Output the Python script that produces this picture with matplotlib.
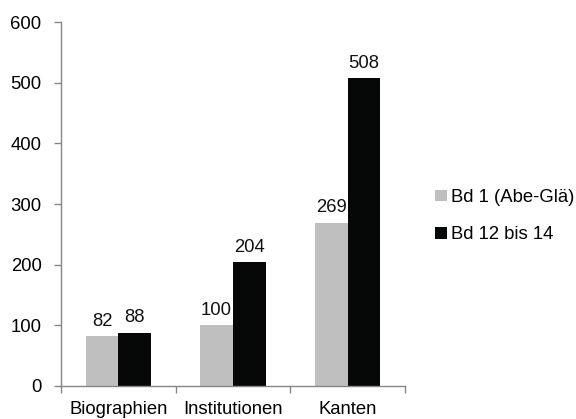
import matplotlib
matplotlib.use("Agg")
import matplotlib.pyplot as plt
import numpy as np

categories = ["Biographien", "Institutionen", "Kanten"]
series_names = ["Bd 1 (Abe-Glä)", "Bd 12 bis 14"]
bd1 = [82, 100, 269]
bd12 = [88, 204, 508]
yticks = [0, 100, 200, 300, 400, 500, 600]

plt.rcParams["font.family"] = ["Liberation Sans", "DejaVu Sans"]
plt.rcParams["font.size"] = 13.3

fig = plt.figure(figsize=(5.76, 4.19), dpi=100)
ax = fig.add_axes([0.106, 0.079, 0.597, 0.868])

x = np.arange(len(categories))
w = 0.2857
colors = ["#bfbfbf", "#060707"]
for i, (vals, name) in enumerate(zip([bd1, bd12], series_names)):
    pos = x + (i - 0.5) * w
    bars = ax.bar(pos, vals, width=w, color=colors[i], label=name, zorder=2)
    for b, v in zip(bars, vals):
        ax.annotate(str(v), (b.get_x() + b.get_width() / 2, v),
                    xytext=(0, 7.5), textcoords="offset points",
                    ha="center", va="baseline", fontsize=13.3, color="#111111")

ax.set_xlim(-0.5, len(categories) - 0.5)
ax.set_ylim(0, 600)
ax.set_yticks(yticks)
ax.set_yticklabels([str(t) for t in yticks])

ax.set_xticks(x)
ax.set_xticklabels(categories)
ax.tick_params(axis="x", length=0, pad=11)
# category boundary ticks
ax.set_xticks(np.arange(-0.5, len(categories), 1.0), minor=True)
ax.tick_params(axis="x", which="minor", length=5, color="#868686", width=1)
ax.tick_params(axis="y", length=5, color="#868686", width=1, pad=9)

for side in ["top", "right"]:
    ax.spines[side].set_visible(False)
for side in ["left", "bottom"]:
    ax.spines[side].set_color("#868686")
    ax.spines[side].set_linewidth(1)

leg = fig.legend(loc="center left", bbox_to_anchor=(0.74, 0.484), frameon=False,
                 handlelength=0.6, handleheight=0.6, handletextpad=0.25,
                 labelspacing=1.1, fontsize=13.3, borderpad=0)

fig.savefig("out.png", dpi=100)
